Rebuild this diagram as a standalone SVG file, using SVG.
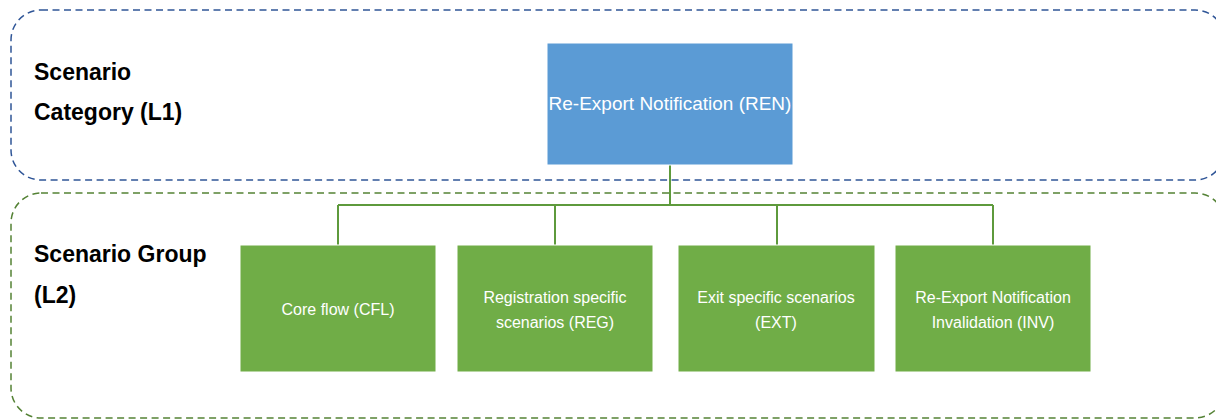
<svg xmlns="http://www.w3.org/2000/svg" width="1216" height="419" viewBox="0 0 1216 419">
<style>
.band{fill:none;stroke-width:1.5;stroke-dasharray:7 4.5}
.b1{stroke:#2F5597}
.b2{stroke:#548235}
.lab{font-family:"Liberation Sans",Arial,sans-serif;font-weight:bold;font-size:23px;fill:#000}
.node text{font-family:"Liberation Sans",Arial,sans-serif;fill:#fff;text-anchor:middle}
.g rect{fill:#70AD47;stroke:#fff;stroke-width:1}
.conn{fill:none;stroke:#5E9A3C;stroke-width:2}
</style>
<rect class="band b1" x="11" y="10" width="1214" height="170" rx="30" ry="30"/>
<rect class="band b2" x="11" y="193" width="1214" height="225" rx="30" ry="30"/>
<text class="lab" x="34" y="80">Scenario</text>
<text class="lab" x="34" y="120">Category (L1)</text>
<text class="lab" x="34" y="262">Scenario Group</text>
<text class="lab" x="34" y="303">(L2)</text>
<g id="connectors" class="conn">
<path d="M670 165 V205 M338 205 H993 M338 205 V245 M555 205 V245 M777 205 V245 M993 205 V245"/>
</g>
<g id="ren" class="node">
<rect x="547" y="43" width="246" height="122" fill="#5B9BD5" stroke="#fff"/>
<text x="670" y="110" font-size="19">Re-Export Notification (REN)</text>
</g>
<g id="cfl" class="node g">
<rect x="240" y="245" width="196" height="127"/>
<text x="338" y="315" font-size="16">Core flow (CFL)</text>
</g>
<g id="reg" class="node g">
<rect x="457" y="245" width="196" height="127"/>
<text x="555" y="303" font-size="16">Registration specific</text>
<text x="555" y="328" font-size="16">scenarios (REG)</text>
</g>
<g id="ext" class="node g">
<rect x="678" y="245" width="197" height="127"/>
<text x="776" y="303" font-size="16">Exit specific scenarios</text>
<text x="776" y="328" font-size="16">(EXT)</text>
</g>
<g id="inv" class="node g">
<rect x="895" y="245" width="196" height="127"/>
<text x="993" y="303" font-size="16">Re-Export Notification</text>
<text x="993" y="328" font-size="16">Invalidation (INV)</text>
</g>
</svg>
